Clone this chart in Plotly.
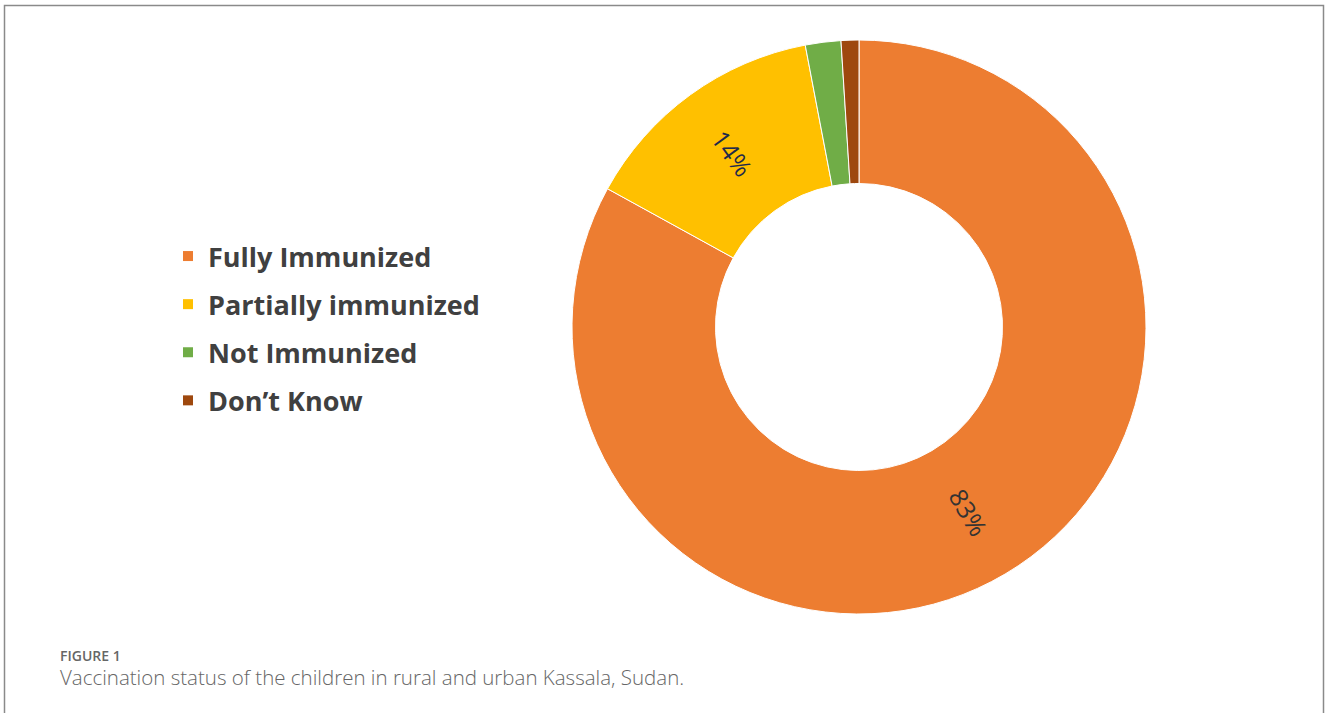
import math
import plotly.graph_objects as go

categories = ["Fully Immunized", "Partially immunized", "Not Immunized", "Don\u2019t Know"]
values = [83, 14, 2, 1]
colors = ["#ED7D31", "#FFC000", "#70AD47", "#9E480E"]
show_label = [True, True, False, False]
label_colors = ["#333333", "#1f2a4a", "#333333", "#333333"]

W, H = 1328, 713
cx, cy, r = 859, 327, 287
hole = 0.5

fig = go.Figure()
fig.add_trace(go.Pie(
    labels=categories,
    values=values,
    hole=hole,
    sort=False,
    direction="clockwise",
    rotation=0,
    marker=dict(colors=colors, line=dict(color="white", width=1)),
    textinfo="none",
    domain=dict(x=[(cx - r) / W, (cx + r) / W], y=[1 - (cy + r) / H, 1 - (cy - r) / H]),
    showlegend=False,
))

# legend entries (separate entries so the row gap can be set)
for cat, col in zip(categories, colors):
    fig.add_trace(go.Scatter(
        x=[None], y=[None], mode="markers", name=cat, legendgroup=cat,
        marker=dict(symbol="square", size=10, color=col),
        showlegend=True,
    ))

# radial percentage labels at mid-angle, mid-ring of each slice
annotations = []
total = sum(values)
cum = 0.0
for v, show, col in zip(values, show_label, label_colors):
    mid = (cum + v / 2) / total * 360.0
    cum += v
    if not show:
        continue
    rr = r * (1 + hole) / 2
    px = cx + rr * math.sin(math.radians(mid))
    py = cy - rr * math.cos(math.radians(mid))
    ang = mid - 90
    if 90 < ang % 360 < 270:
        ang -= 180
    annotations.append(dict(
        text=f"{round(v / total * 100)}%", xref="paper", yref="paper",
        x=px / W, y=1 - py / H, xanchor="center", yanchor="middle",
        textangle=ang, showarrow=False,
        font=dict(family="Open Sans", size=25, color=col),
    ))

annotations += [
    dict(text="FIGURE 1", xref="paper", yref="paper", x=58 / W, y=1 - 655 / H,
         xanchor="left", yanchor="middle", showarrow=False,
         font=dict(family="Open Sans", size=14, color="#666666", weight=600)),
    dict(text="Vaccination status of the children in rural and urban Kassala, Sudan.",
         xref="paper", yref="paper", x=58 / W, y=1 - 677 / H,
         xanchor="left", yanchor="middle", showarrow=False,
         font=dict(family="Open Sans", size=20.5, color="#666666", weight=300)),
]

fig.update_layout(
    width=W, height=H,
    margin=dict(l=0, r=0, t=0, b=0),
    paper_bgcolor="white",
    plot_bgcolor="white",
    xaxis=dict(visible=False),
    yaxis=dict(visible=False),
    legend=dict(
        x=168 / W, y=1 - 232 / H, xanchor="left", yanchor="top",
        font=dict(family="Open Sans", size=27, color="#404040", weight="bold"),
        bgcolor="rgba(0,0,0,0)",
        tracegroupgap=10,
        itemwidth=30,
    ),
    shapes=[dict(type="rect", xref="paper", yref="paper",
                 x0=4.5 / W, x1=1323.5 / W, y0=-0.05, y1=1 - 5.5 / H,
                 line=dict(color="#8a8a8a", width=1.5), fillcolor="rgba(0,0,0,0)")],
    annotations=annotations,
)

fig.write_html("out.html")
